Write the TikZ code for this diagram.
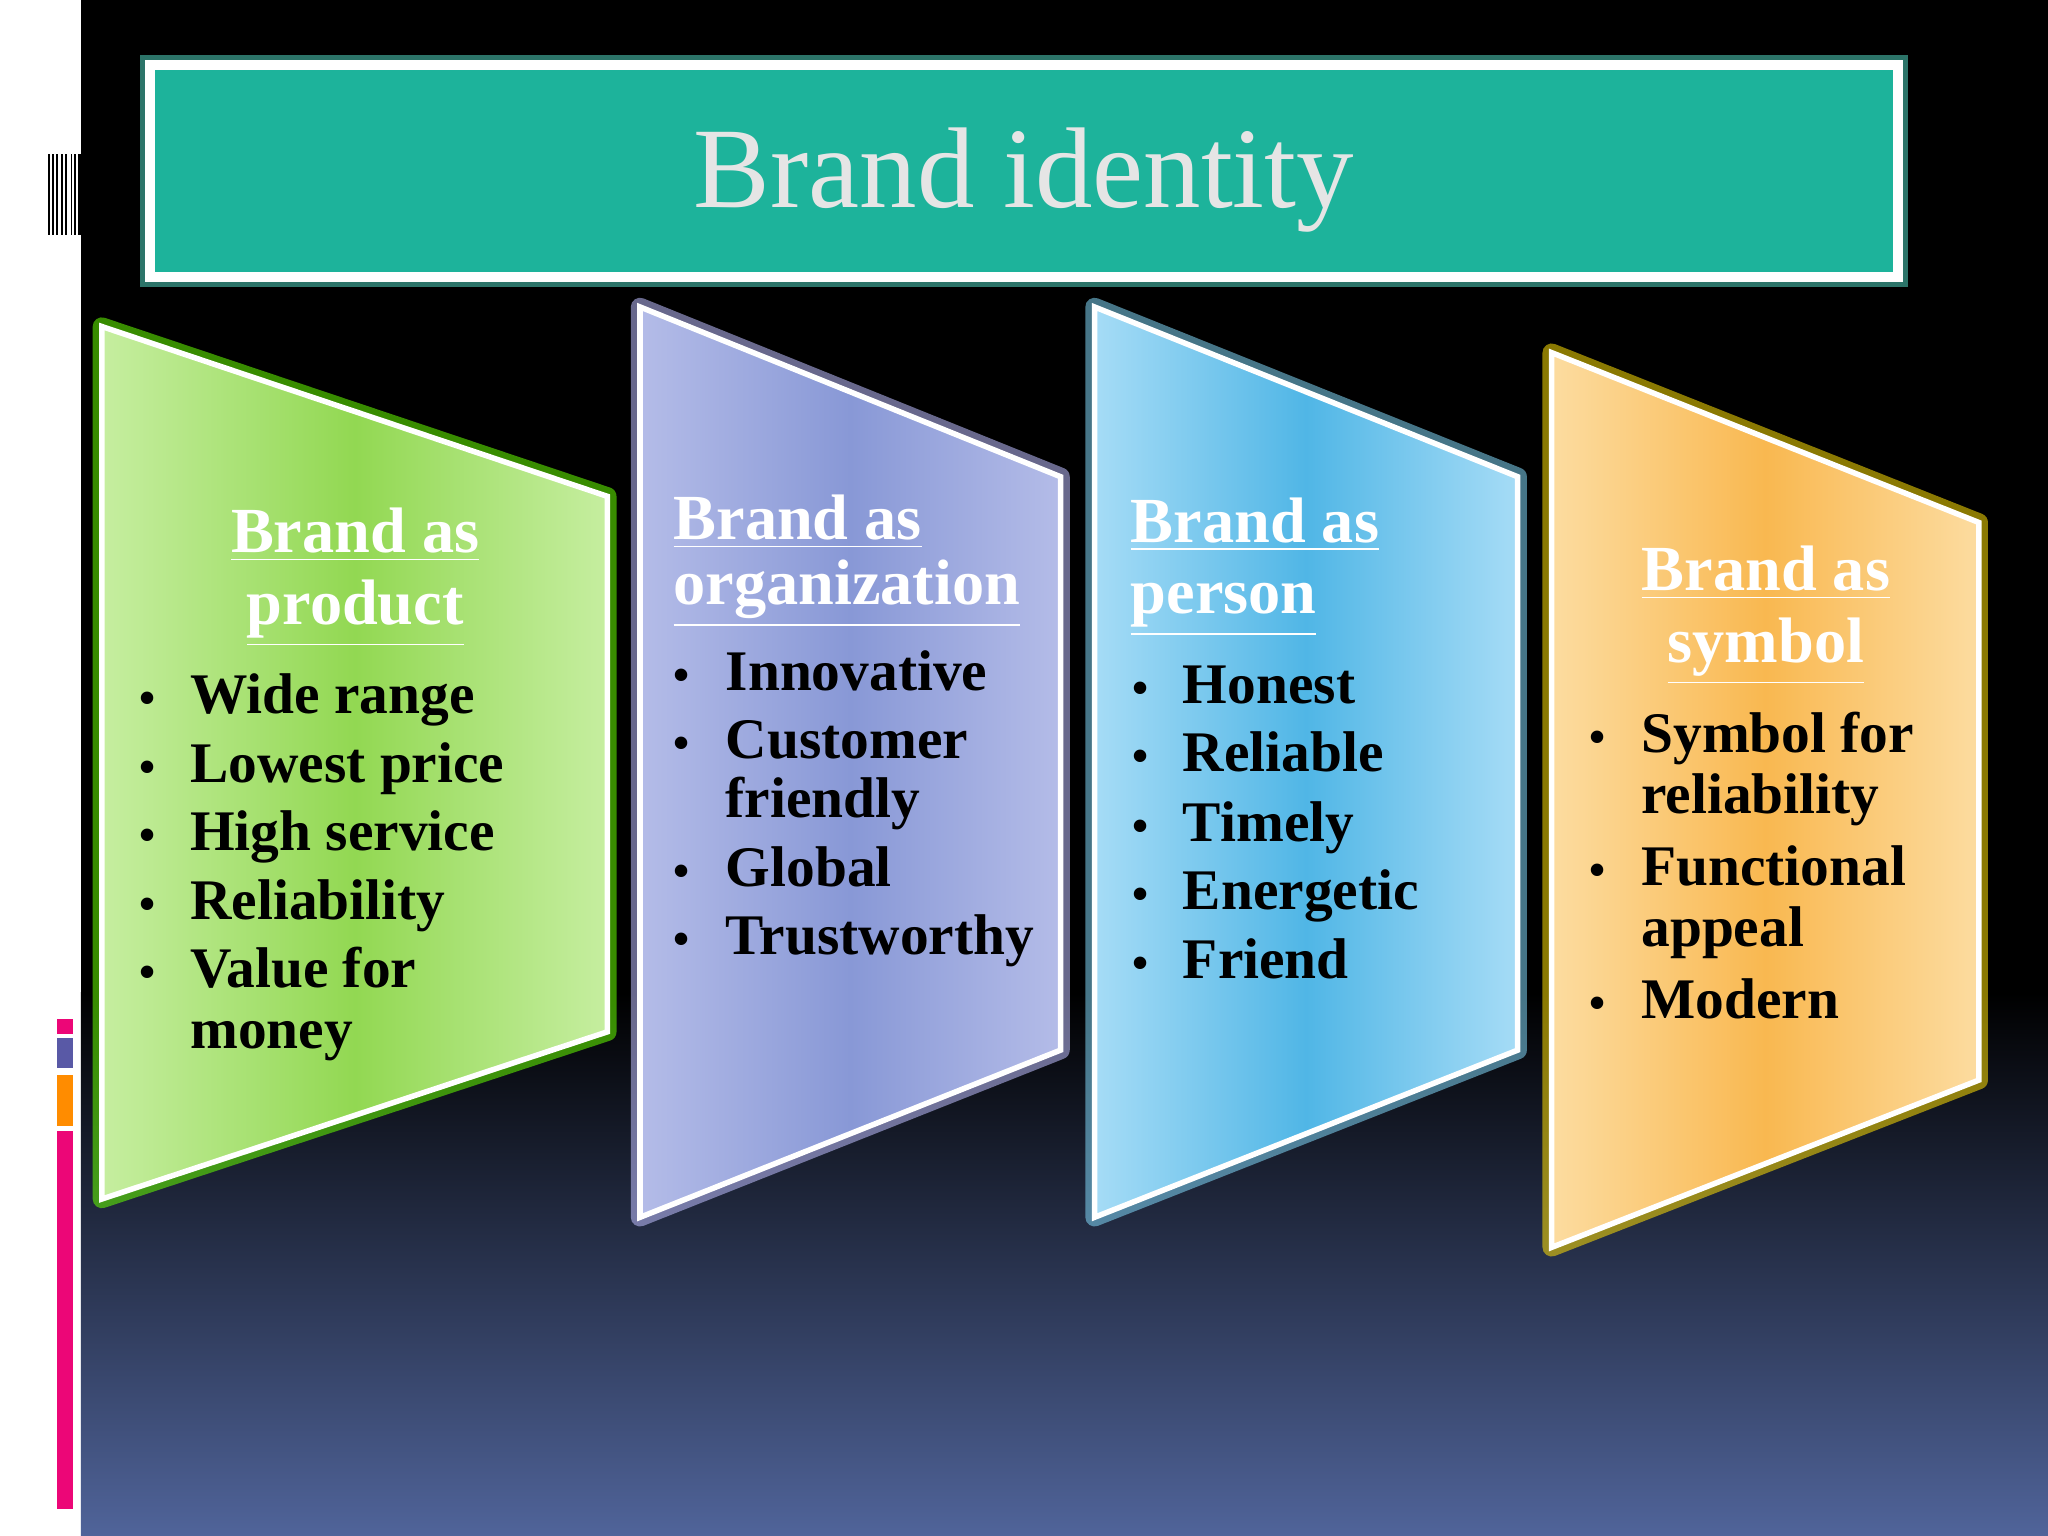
\documentclass[tikz,border=0pt]{standalone}
\usepackage{fontspec}
\setmainfont{Liberation Serif}
\usetikzlibrary{positioning}
\definecolor{teal1}{HTML}{1DB39B}
\definecolor{gA}{HTML}{C6EEA0}\definecolor{gB}{HTML}{92D852}
\definecolor{pA}{HTML}{B4BCE8}\definecolor{pB}{HTML}{8898D6}
\definecolor{bA}{HTML}{A6DCF6}\definecolor{bB}{HTML}{50B6E6}
\definecolor{oA}{HTML}{FCDCA0}\definecolor{oB}{HTML}{F9B850}
\definecolor{bot}{HTML}{50649A}
\tikzset{
 hd/.style={anchor=base,inner sep=0pt,text=white,font=\bfseries\fontsize{14}{16}\selectfont},
 it/.style={anchor=base west,inner sep=0pt,text=black,font=\bfseries\fontsize{12.5}{14}\selectfont},
 bl/.style={anchor=base,inner sep=0pt,text=black,font=\bfseries\fontsize{10}{12}\selectfont},
 panel/.style={draw=white,line width=1.2pt}
}
\begin{document}
\begin{tikzpicture}[x=0.01cm,y=-0.01cm]
\useasboundingbox (0,0) rectangle (1568,1176);
\fill[white] (0,0) rectangle (62,1176);
\fill[black] (62,0) rectangle (1568,760);
\shade[top color=black,bottom color=bot] (62,760) rectangle (1568,1176);
% left strip
\foreach \x in {37,40,43,47,50,54,57} \fill[black] (\x,118) rectangle ++(1.5,62);
\fill[black] (60,118) rectangle (62,180);
\fill[magenta!80!red] (44,780) rectangle (56,792);
\fill[gray!70!blue] (44,795) rectangle (56,818);
\fill[orange!90!yellow] (44,823) rectangle (56,862);
\fill[magenta!80!red] (44,866) rectangle (56,1155);
% title
\node[draw=teal1!80!white,line width=3pt,opacity=.6,minimum width=13.42cm,minimum height=1.67cm] (tglow) at (784,131) {};
\node[fill=teal1,draw=white,line width=2.2pt,minimum width=13.37cm,minimum height=1.62cm] (title) at (784,131) {};
\node[text=white!90!black,font=\fontsize{25}{30}\selectfont] at (784,138) {Brand identity};
% panels
\foreach \a/\b/\c/\d/\ca/\cb/\gl in {78/465/250/918/gA/gB/green!60!yellow, 490/812/235/932/pA/pB/blue!25!white, 838/1162/235/932/bA/bB/cyan!50!white, 1188/1515/270/955/oA/oB/yellow!80!orange}{
  \pgfmathsetmacro\m{(\a+\b)/2}
  \pgfmathsetmacro\cc{\c+130}
  \pgfmathsetmacro\dd{\d-128}
  \draw[\gl,line width=4pt,opacity=.55,line join=round] (\a,\c) -- (\b,\cc) -- (\b,\dd) -- (\a,\d) -- cycle;
  \begin{scope}
  \clip (\a,\c) -- (\b,\cc) -- (\b,\dd) -- (\a,\d) -- cycle;
  \shade[left color=\ca,right color=\cb] (\a,\c) rectangle (\m,\d);
  \shade[left color=\cb,right color=\ca] (\m,\c) rectangle (\b,\d);
  \end{scope}
  \draw[panel] (\a,\c) -- (\b,\cc) -- (\b,\dd) -- (\a,\d) -- cycle;
}
% panel 1
\node[hd] (h1a) at (272,423) {\underline{Brand as}};
\node[hd] (h1b) at (272,478) {\underline{product}};
\foreach \t/\y in {Wide range/546,Lowest price/599,High service/651,Reliability/704,Value for/756,money/803}
  \node[it] at (145,\y) {\t};
\foreach \y in {546,599,651,704,756} \node[bl] at (113,\y) {•};
% panel 2
\node[hd,anchor=base west] (h2a) at (515,413) {\underline{Brand as}};
\node[hd,anchor=base west] (h2b) at (515,463) {\underline{organization}};
\foreach \t/\y in {Innovative/529,Customer/581,friendly/626,Global/679,Trustworthy/731}
  \node[it] at (555,\y) {\t};
\foreach \y in {529,581,679,731} \node[bl] at (522,\y) {•};
% panel 3
\node[hd,anchor=base west] (h3a) at (865,415) {\underline{Brand as}};
\node[hd,anchor=base west] (h3b) at (865,470) {\underline{person}};
\foreach \t/\y in {Honest/539,Reliable/591,Timely/644,Energetic/696,Friend/749}
  \node[it] at (905,\y) {\t};
\foreach \y in {539,591,644,696,749} \node[bl] at (873,\y) {•};
% panel 4
\node[hd] (h4a) at (1352,452) {\underline{Brand as}};
\node[hd] (h4b) at (1352,507) {\underline{symbol}};
\foreach \t/\y in {Symbol for/576,reliability/623,Functional/678,appeal/725,Modern/780}
  \node[it] at (1256,\y) {\t};
\foreach \y in {576,678,780} \node[bl] at (1223,\y) {•};
\end{tikzpicture}
\end{document}
